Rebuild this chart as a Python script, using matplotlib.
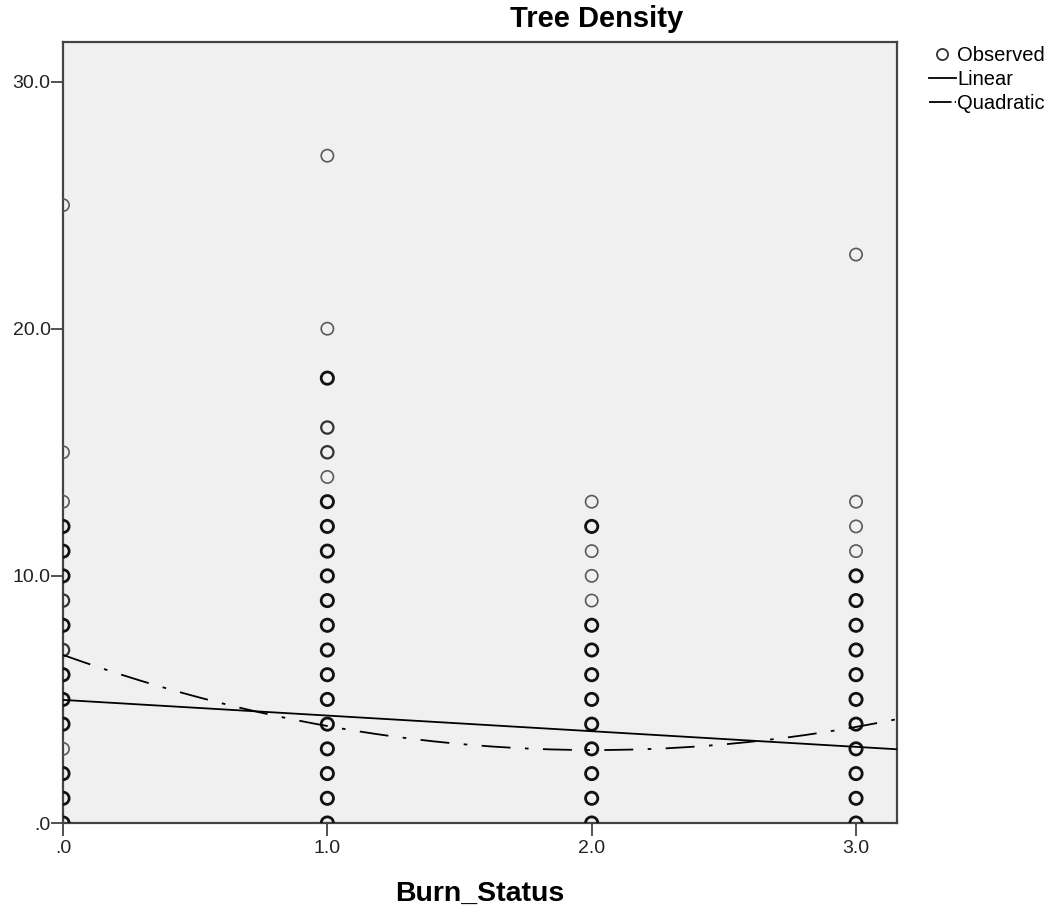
import numpy as np
import matplotlib
matplotlib.use('Agg')
import matplotlib.pyplot as plt
from matplotlib.lines import Line2D

plt.rcParams['font.family'] = ['Liberation Sans', 'DejaVu Sans']

# observed values per burn status (value -> number of overlapping cases, estimated from ring darkness)
burn0_vals = [25, 15, 13, 12, 11, 10, 9, 8, 7, 6, 5, 4, 3, 2, 1, 0]
burn0_cnt  = [1, 1, 1, 3, 3, 3, 2, 3, 2, 3, 3, 3, 1, 3, 3, 3]
burn1_vals = [27, 20, 18, 16, 15, 14, 13, 12, 11, 10, 9, 8, 7, 6, 5, 4, 3, 2, 1, 0]
burn1_cnt  = [1, 1, 3, 2, 2, 1, 3, 3, 3, 3, 3, 3, 3, 3, 3, 3, 3, 3, 3, 3]
burn2_vals = [13, 12, 11, 10, 9, 8, 7, 6, 5, 4, 3, 2, 1, 0]
burn2_cnt  = [1, 3, 1, 1, 1, 3, 3, 3, 3, 3, 3, 3, 3, 3]
burn3_vals = [23, 13, 12, 11, 10, 9, 8, 7, 6, 5, 4, 3, 2, 1, 0]
burn3_cnt  = [1, 1, 1, 1, 3, 3, 3, 3, 3, 3, 3, 3, 3, 3, 3]
burn_status = [0.0, 1.0, 2.0, 3.0]

# fitted curves (highest power first)
linear_coef = [-0.633, 4.98]
quad_coef = [0.953, -3.83, 6.80]

xticks = [0, 1, 2, 3]
xticklabels = ['.0', '1.0', '2.0', '3.0']
yticks = [0, 10, 20, 30]
yticklabels = ['.0', '10.0', '20.0', '30.0']

fig = plt.figure(figsize=(10.59, 9.18), dpi=100)
ax = fig.add_axes([63/1059, 1-823/918, (897-63)/1059, (823-42)/918])
ax.set_facecolor('#F0F0F0')

xmax, ymax = 3.155, 31.6

# observed points
for xv, vals, cnt in zip(burn_status, [burn0_vals, burn1_vals, burn2_vals, burn3_vals],
                         [burn0_cnt, burn1_cnt, burn2_cnt, burn3_cnt]):
    vals = np.array(vals)
    cnt = np.array(cnt)
    lw = np.where(cnt >= 3, 2.0, np.where(cnt == 2, 1.6, 1.2))
    col = ['#111111' if c >= 3 else ('#333333' if c == 2 else '#5a5a5a') for c in cnt]
    ax.scatter(np.full(len(vals), xv), vals, s=78, facecolors='none', edgecolors=col,
               linewidths=lw, zorder=3)

xs = np.linspace(0, xmax, 300)
ax.plot(xs, np.polyval(linear_coef, xs), color='black', lw=1.3, zorder=4)
ax.plot(xs, np.polyval(quad_coef, xs), color='black', lw=1.3, zorder=4,
        dashes=(16, 8, 2, 8))

ax.set_xlim(0, xmax)
ax.set_ylim(0, ymax)
ax.set_xticks(xticks)
ax.set_xticklabels(xticklabels)
ax.set_yticks(yticks)
ax.set_yticklabels(yticklabels)
ax.tick_params(direction='out', length=9, width=1.2, color='#333333', labelsize=14,
               labelcolor='#222222', pad=0)
ax.tick_params(axis='x', pad=3)
for s in ax.spines.values():
    s.set_color('#444444')
    s.set_linewidth(1.6)

fig.text(597/1059, 1-19/918, 'Tree Density', fontsize=21, fontweight='bold',
         ha='center', va='center')
fig.text(480/1059, 1-894/918, 'Burn_Status', fontsize=20.5, fontweight='bold',
         ha='center', va='center')

handles = [Line2D([], [], ls='none', marker='o', mfc='none', mec='#333333', ms=8, mew=1.3),
           Line2D([], [], color='black', lw=1.3),
           Line2D([], [], color='black', lw=1.3, dashes=(12.5, 1.8, 0.8, 8))]
ax.legend(handles, ['Observed', 'Linear', 'Quadratic'], loc='upper left',
          bbox_to_anchor=(1.038, 0.995), frameon=False, fontsize=14.5,
          handlelength=1.35, handletextpad=0.05, labelspacing=0.25, borderaxespad=0,
          borderpad=0)

fig.savefig('out.png', dpi=100)
